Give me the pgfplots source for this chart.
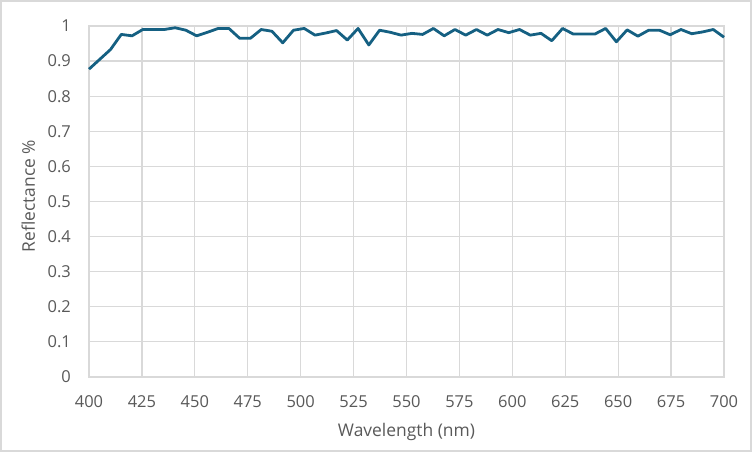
\documentclass[border=0pt]{standalone}
\usepackage{fontspec}
\setmainfont{Open Sans}
\usepackage{pgfplots}
\pgfplotsset{compat=1.18}
\definecolor{linecol}{HTML}{156082}
\definecolor{gridcol}{HTML}{D9D9D9}
\definecolor{txtcol}{HTML}{595959}

% reflectance spectrum, 60 evenly spaced samples 400-700 nm
\pgfplotstableread{
x       y
400.00  0.877
405.08  0.905
410.17  0.933
415.25  0.976
420.34  0.972
425.42  0.990
430.51  0.990
435.59  0.990
440.68  0.995
445.76  0.988
450.85  0.972
455.93  0.982
461.02  0.993
466.10  0.993
471.19  0.965
476.27  0.965
481.36  0.990
486.44  0.985
491.53  0.952
496.61  0.988
501.69  0.993
506.78  0.974
511.86  0.980
516.95  0.987
522.03  0.960
527.12  0.993
532.20  0.946
537.29  0.988
542.37  0.982
547.46  0.974
552.54  0.979
557.63  0.976
562.71  0.993
567.80  0.972
572.88  0.990
577.97  0.974
583.05  0.990
588.14  0.974
593.22  0.990
598.31  0.981
603.39  0.990
608.47  0.974
613.56  0.979
618.64  0.958
623.73  0.993
628.81  0.977
633.90  0.977
638.98  0.977
644.07  0.993
649.15  0.955
654.24  0.989
659.32  0.971
664.41  0.988
669.49  0.988
674.58  0.975
679.66  0.990
684.75  0.978
689.83  0.983
694.92  0.990
700.00  0.968
}\spectrum

\begin{document}
\begin{tikzpicture}
\useasboundingbox (-89bp,-75bp) rectangle (663bp,377bp);
\draw[gridcol, line width=1.2bp] (-88bp,-74bp) rectangle (662bp,376bp);
\begin{axis}[
    at={(0,0)}, anchor=south west,
    scale only axis,
    width=635bp, height=351bp,
    xmin=400, xmax=700,
    ymin=0, ymax=1,
    xtick={400,425,...,700},
    ytick={0,0.1,0.2,0.3,0.4,0.5,0.6,0.7,0.8,0.9,1},
    grid=major,
    grid style={gridcol, line width=1.2bp},
    axis line style={gridcol, line width=1.2bp},
    major tick length=0pt,
    tick label style={font=\fontsize{16.5}{18}\selectfont, text=txtcol, inner sep=0pt},
    xticklabel style={anchor=center, yshift=-24.7bp},
    yticklabel style={anchor=east, xshift=-18bp},
    /pgf/number format/assume math mode=true,
    clip=false,
]
\addplot[linecol, line width=2.8bp, line join=round] table {\spectrum};
\end{axis}
\node[text=txtcol, font=\fontsize{17.5}{19}\selectfont] at (317.5bp,-54.7bp) {Wavelength (nm)};
\node[text=txtcol, font=\fontsize{17.5}{19}\selectfont, rotate=90] at (-60.7bp,181bp) {Reflectance \%};
\end{tikzpicture}
\end{document}
